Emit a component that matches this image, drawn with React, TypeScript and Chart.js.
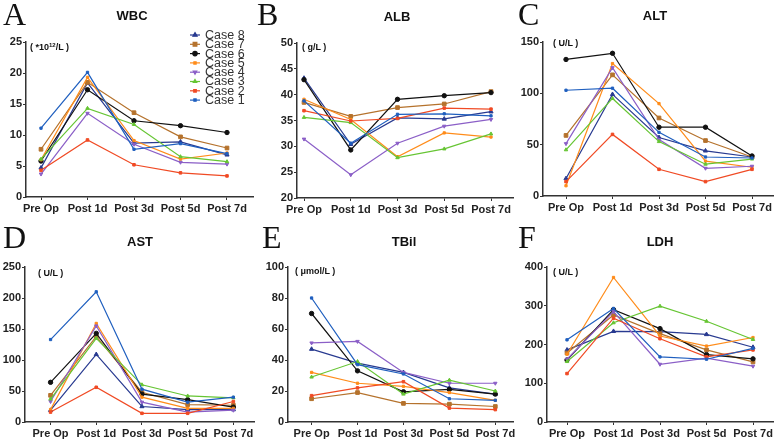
import React, { useEffect, useRef } from "react";
import { Chart, registerables } from "chart.js";
import { drawPoint } from "chart.js/helpers";

Chart.register(...registerables);

const timepoints = ["Pre Op", "Post 1d", "Post 3d", "Post 5d", "Post 7d"];
const caseLabels = ["Case 1", "Case 2", "Case 3", "Case 4", "Case 5", "Case 6", "Case 7", "Case 8"];
const caseColors = ["#1f5fbf", "#f04a24", "#66c533", "#8b5fc7", "#ff8c1a", "#111111", "#b5722c", "#283a90"];
const caseStyles = ["rect", "rect", "triangle", "triangle", "rect", "circle", "rect", "triangle"];
const caseRadii = [1.6, 1.8, 2, 2, 1.6, 2.2, 2.6, 2.4];
const caseRotations = [0, 0, 0, 180, 0, 0, 0, 0];

// values per case (Case 1 .. Case 8), across timepoints
const wbcValues = [
  [11.1, 20.1, 7.7, 8.6, 7.0],
  [4.3, 9.2, 5.2, 3.9, 3.4],
  [6.1, 14.3, 11.7, 6.5, 5.7],
  [3.7, 13.5, 8.5, 5.6, 5.3],
  [6.0, 19.3, 9.1, 6.1, 7.1],
  [5.8, 17.3, 12.3, 11.5, 10.4],
  [7.7, 18.5, 13.6, 9.7, 7.9],
  [4.7, 18.4, 8.7, 8.9, 6.8],
];
const albValues = [
  [38.8, 30.6, 36.2, 36.3, 35.9],
  [36.9, 34.9, 35.4, 37.4, 37.2],
  [35.6, 34.6, 27.8, 29.5, 32.4],
  [31.4, 24.5, 30.6, 33.9, 35.2],
  [39.1, 35.2, 28.0, 32.6, 31.8],
  [42.9, 29.3, 39.1, 39.8, 40.4],
  [38.5, 35.8, 37.5, 38.2, 40.6],
  [43.2, 30.4, 35.5, 35.3, 36.7],
];
const altValues = [
  [103, 105, 62, 38, 37],
  [14, 60, 26, 14, 26],
  [45, 95, 53, 31, 36],
  [51, 125, 55, 27, 29],
  [10, 129, 90, 34, 28],
  [133, 139, 67, 67, 39],
  [59, 118, 76, 54, 38],
  [17, 99, 57, 44, 38],
];
const astValues = [
  [133, 210, 53, 32, 40],
  [16, 56, 14, 14, 33],
  [37, 135, 60, 42, 39],
  [33, 155, 32, 16, 19],
  [20, 159, 40, 22, 22],
  [64, 143, 45, 36, 24],
  [43, 138, 48, 28, 27],
  [19, 109, 25, 20, 20],
];
const tbilValues = [
  [80, 37, 31, 15, 14],
  [17, 22, 26, 9, 8],
  [29, 39, 18, 27, 20],
  [51, 52, 32, 25, 25],
  [32, 25, 23, 19, 14],
  [70, 33, 19.5, 21, 18],
  [15, 19, 12, 11.5, 10],
  [47, 38, 32, 22, 18],
];
const ldhValues = [
  [212, 293, 168, 162, 190],
  [125, 268, 215, 168, 186],
  [156, 256, 299, 260, 213],
  [162, 285, 149, 165, 144],
  [175, 373, 222, 196, 218],
  [160, 290, 241, 174, 163],
  [178, 276, 228, 186, 155],
  [186, 234, 233, 226, 193],
];

const axisColor = "#333333";
const textColor = "#222222";
const sansFamily = '"Liberation Sans", Arial, sans-serif';

type Box = { left: number; top: number; width: number; height: number };
type Area = { left: number; top: number; right: number; bottom: number };
type Panel = {
  letter: string;
  title: string;
  unit: React.ReactNode;
  values: number[][];
  yMin: number;
  yMax: number;
  yStep: number;
  canvas: Box;
  area: Area;
  firstX: number;
  stepX: number;
  legend?: boolean;
  letterPos: [number, number];
  titleCenter: [number, number];
  unitPos: [number, number];
};

const panels: Panel[] = [
  {
    letter: "A", title: "WBC",
    unit: <span>( *10<sup style={{ fontSize: "6px", verticalAlign: "3px" }}>12</sup>/L )</span>,
    values: wbcValues, yMin: 0, yMax: 25, yStep: 5,
    canvas: { left: 0, top: 0, width: 259, height: 221 },
    area: { left: 26, top: 42, right: 253, bottom: 197 },
    firstX: 41, stepX: 46.5, legend: true,
    letterPos: [3, -2], titleCenter: [132, 15.5], unitPos: [30, 45],
  },
  {
    letter: "B", title: "ALB", unit: "( g/L )",
    values: albValues, yMin: 20, yMax: 50, yStep: 5,
    canvas: { left: 259, top: 0, width: 259, height: 221 },
    area: { left: 297, top: 43, right: 513, bottom: 198 },
    firstX: 304, stepX: 46.75,
    letterPos: [257, -2], titleCenter: [397, 16], unitPos: [302, 47],
  },
  {
    letter: "C", title: "ALT", unit: "( U/L )",
    values: altValues, yMin: 0, yMax: 150, yStep: 50,
    canvas: { left: 518, top: 0, width: 260, height: 221 },
    area: { left: 543, top: 42, right: 773, bottom: 196 },
    firstX: 566, stepX: 46.5,
    letterPos: [518, -2], titleCenter: [655, 15], unitPos: [553, 43],
  },
  {
    letter: "D", title: "AST", unit: "( U/L )",
    values: astValues, yMin: 0, yMax: 250, yStep: 50,
    canvas: { left: 0, top: 221, width: 259, height: 221 },
    area: { left: 25, top: 267, right: 258, bottom: 422 },
    firstX: 51, stepX: 46.5,
    letterPos: [3, 221], titleCenter: [140, 241], unitPos: [38, 273],
  },
  {
    letter: "E", title: "TBil", unit: "( μmol/L )",
    values: tbilValues, yMin: 0, yMax: 100, yStep: 20,
    canvas: { left: 259, top: 221, width: 259, height: 221 },
    area: { left: 288, top: 267, right: 517, bottom: 422 },
    firstX: 312, stepX: 46.75,
    letterPos: [262, 221], titleCenter: [404, 241], unitPos: [295, 271],
  },
  {
    letter: "F", title: "LDH", unit: "( U/L )",
    values: ldhValues, yMin: 0, yMax: 400, yStep: 100,
    canvas: { left: 518, top: 221, width: 260, height: 221 },
    area: { left: 547, top: 267, right: 773, bottom: 422 },
    firstX: 567, stepX: 46.5,
    letterPos: [518, 221], titleCenter: [660, 241], unitPos: [553, 272],
  },
];

const legendX = 195;
const legendTop = 35;
const legendRow = 9.3;

const caseLegendPlugin = {
  id: "caseLegend",
  afterDatasetsDraw(chart: any) {
    const ctx = chart.ctx as CanvasRenderingContext2D;
    ctx.save();
    for (let r = 0; r < caseLabels.length; r++) {
      const i = caseLabels.length - 1 - r;
      const y = legendTop + r * legendRow;
      ctx.strokeStyle = caseColors[i];
      ctx.lineWidth = 1.2;
      ctx.beginPath();
      ctx.moveTo(legendX - 5, y);
      ctx.lineTo(legendX + 5, y);
      ctx.stroke();
      ctx.fillStyle = caseColors[i];
      drawPoint(ctx, { pointStyle: caseStyles[i] as any, radius: caseRadii[i], rotation: caseRotations[i], borderWidth: 1 }, legendX, y);
      ctx.fillStyle = "#333333";
      ctx.font = `12.5px ${sansFamily}`;
      ctx.textBaseline = "middle";
      ctx.textAlign = "left";
      ctx.fillText(chart.data.datasets[i].label, legendX + 10, y + 0.5);
    }
    ctx.restore();
  },
};

function ChartPanel({ p }: { p: Panel }) {
  const ref = useRef<HTMLCanvasElement>(null);
  useEffect(() => {
    const c = p.canvas;
    const a = p.area;
    const xMin = (a.left - p.firstX) / p.stepX;
    const xMax = (a.right - p.firstX) / p.stepX;
    const datasets = caseLabels.map((label, i) => ({
      label,
      data: p.values[i].map((v, j) => ({ x: j, y: v })),
      borderColor: caseColors[i],
      backgroundColor: caseColors[i],
      pointBackgroundColor: caseColors[i],
      pointBorderColor: caseColors[i],
      borderWidth: 1.2,
      pointStyle: caseStyles[i],
      pointRadius: caseRadii[i],
      pointRotation: caseRotations[i],
      pointBorderWidth: 1,
      tension: 0,
    }));
    const tickFont = { family: sansFamily, size: 11, weight: "bold" as const };
    const chart = new Chart(ref.current!, {
      type: "line",
      data: { datasets },
      options: {
        animation: false,
        responsive: false,
        devicePixelRatio: 1,
        layout: {
          padding: {
            left: 0,
            top: a.top - c.top,
            right: c.left + c.width - a.right,
            bottom: 0,
          },
        },
        plugins: {
          legend: { display: false },
          tooltip: { enabled: false },
          title: { display: false },
        },
        scales: {
          x: {
            type: "linear",
            min: xMin,
            max: xMax,
            afterBuildTicks: (s: any) => {
              s.ticks = timepoints.map((_, j) => ({ value: j }));
            },
            afterFit: (s: any) => {
              s.height = c.top + c.height - a.bottom;
            },
            ticks: {
              callback: (v: any) => timepoints[Math.round(Number(v))] ?? "",
              font: tickFont,
              color: textColor,
              padding: 2,
              maxRotation: 0,
              autoSkip: false,
            },
            grid: { drawOnChartArea: false, drawTicks: true, tickLength: 3, color: axisColor, lineWidth: 1 },
            border: { display: true, color: axisColor, width: 1.5 },
          },
          y: {
            type: "linear",
            min: p.yMin,
            max: p.yMax,
            afterFit: (s: any) => {
              s.width = a.left - c.left;
            },
            ticks: {
              stepSize: p.yStep,
              font: tickFont,
              color: textColor,
              padding: 1,
            },
            grid: { drawOnChartArea: false, drawTicks: true, tickLength: 3, color: axisColor, lineWidth: 1 },
            border: { display: true, color: axisColor, width: 1.5 },
          },
        },
      },
      plugins: p.legend ? [caseLegendPlugin] : [],
    });
    return () => chart.destroy();
  }, [p]);
  return (
    <canvas
      ref={ref}
      width={p.canvas.width}
      height={p.canvas.height}
      style={{ position: "absolute", left: p.canvas.left, top: p.canvas.top, width: p.canvas.width, height: p.canvas.height }}
    />
  );
}

export default function App() {
  return (
    <div style={{ position: "absolute", left: 0, top: 0, width: 778, height: 442, background: "#ffffff", overflow: "hidden" }}>
      {panels.map((p) => (
        <ChartPanel key={p.letter} p={p} />
      ))}
      {panels.map((p) => (
        <React.Fragment key={"t" + p.letter}>
          <div
            style={{
              position: "absolute", left: p.letterPos[0], top: p.letterPos[1],
              fontFamily: '"Liberation Serif", "Times New Roman", serif', fontSize: 32, lineHeight: "32px",
              color: "#111", pointerEvents: "none",
            }}
          >
            {p.letter}
          </div>
          <div
            style={{
              position: "absolute", left: p.titleCenter[0] - 50, top: p.titleCenter[1] - 6.5, width: 100,
              textAlign: "center", fontFamily: sansFamily, fontWeight: "bold", fontSize: 13, lineHeight: "13px",
              color: "#111", pointerEvents: "none",
            }}
          >
            {p.title}
          </div>
          <div
            style={{
              position: "absolute", left: p.unitPos[0], top: p.unitPos[1] - 4.5, whiteSpace: "nowrap",
              fontFamily: sansFamily, fontWeight: "bold", fontSize: 9, lineHeight: "9px",
              color: "#111", pointerEvents: "none",
            }}
          >
            {p.unit}
          </div>
        </React.Fragment>
      ))}
    </div>
  );
}
